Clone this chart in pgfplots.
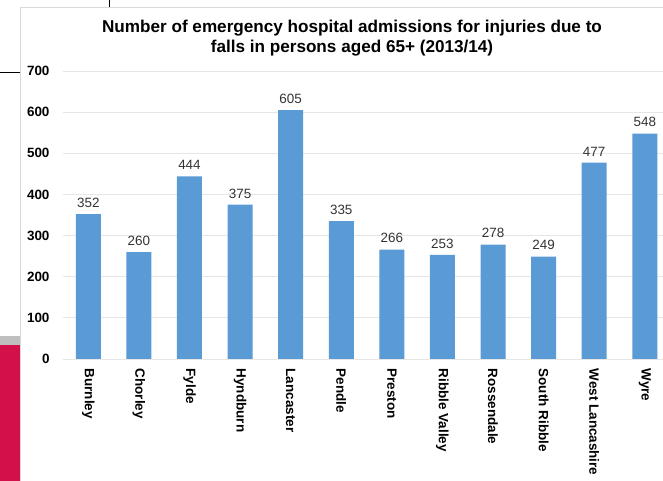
\documentclass[border=0pt]{standalone}
\usepackage{pgfplots}
\pgfplotsset{compat=1.18}
\usepackage{fontspec}
\setmainfont{Liberation Sans}
\definecolor{barblue}{HTML}{5B9BD5}
\definecolor{gridgrey}{HTML}{E6E6E6}
\definecolor{crimson}{HTML}{D3104A}
\begin{document}
\begin{tikzpicture}[x=1bp,y=1bp]
	% page background and surrounding slide bits
	\path[use as bounding box, fill=white] (0,0) rectangle (663,481);
	\fill[crimson] (0,0) rectangle (20,136);
	\fill[black!25] (0,136) rectangle (20,145);
	\draw[black, line width=0.8bp] (0,409) -- (20,409);
	\draw[black, line width=0.8bp] (109,474) -- (109,481);
	\draw[black!15, line width=0.8bp] (20,-1) -- (20,474) -- (664,474);
	\begin{axis}[
	at={(63bp,122bp)}, anchor=south west,
	scale only axis,
	width=600bp, height=288bp,
	ybar, bar width=25bp,
	xmin=-0.5, xmax=11.36,
	ymin=0, ymax=700,
	ytick={0,100,...,700},
	xtick=data,
	xticklabels={Burnley,Chorley,Fylde,Hyndburn,Lancaster,Pendle,Preston,Ribble Valley,Rossendale,South Ribble,West Lancashire,Wyre},
	xticklabel style={rotate=-90, anchor=west, font=\fontsize{13.5}{15}\selectfont\bfseries, xshift=2bp},
	yticklabel style={font=\fontsize{13.5}{15}\selectfont\bfseries, xshift=-10bp},
	/pgf/number format/assume math mode=true,
	ymajorgrids, grid style={gridgrey, line width=0.8bp},
	axis x line*=bottom, axis y line*=left,
	y axis line style={draw=none},
	x axis line style={gridgrey, line width=0.8bp, -},
	tick style={draw=none},
	nodes near coords,
	every node near coord/.append style={font=\fontsize{13.5}{15}\selectfont, text=black!80, yshift=3bp},
	clip=false,
	title={Number of emergency hospital admissions for injuries due to\\falls in persons aged 65+ (2013/14)},
	title style={font=\fontsize{17.2}{20}\selectfont\bfseries, align=center, yshift=5bp, xshift=-11bp},
	]
	\addplot[fill=barblue, draw=none] coordinates {
		(0,352) (1,260) (2,444) (3,375) (4,605) (5,335)
		(6,266) (7,253) (8,278) (9,249) (10,477) (11,548)
	};
	\end{axis}
\end{tikzpicture}
\end{document}
